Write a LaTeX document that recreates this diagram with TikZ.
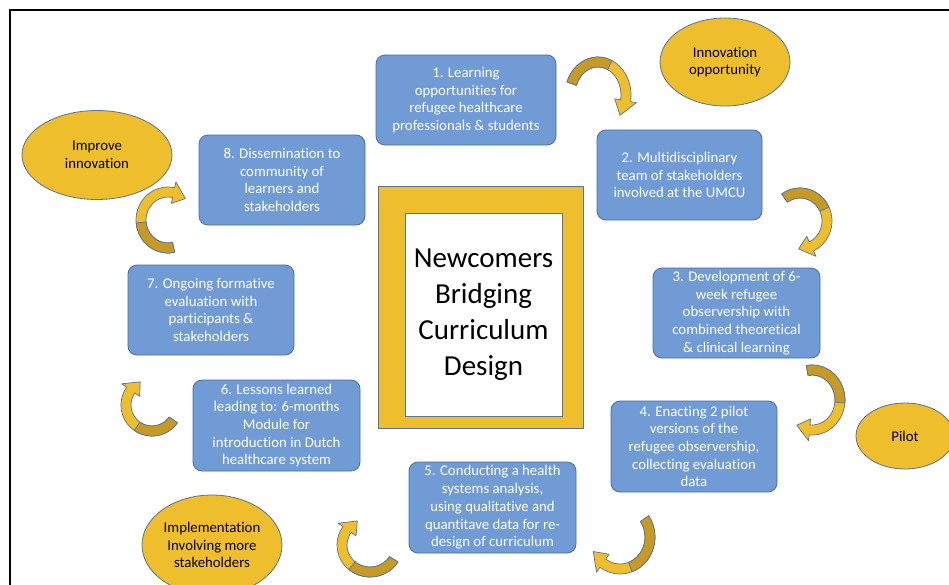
\documentclass[tikz,border=0pt]{standalone}
\usepackage{fontspec}
\setmainfont{Carlito}[Ligatures=NoCommon]
\usetikzlibrary{shapes.geometric}

\definecolor{boxblue}{RGB}{112,155,212}
\definecolor{boxedge}{RGB}{72,108,162}
\definecolor{gold}{RGB}{239,190,45}
\definecolor{darkgold}{RGB}{198,154,36}
\definecolor{rim}{RGB}{88,114,152}

\tikzset{
  stepbox/.style={rectangle, rounded corners=9pt, fill=boxblue, draw=boxedge,
    line width=0.8pt, text=white, align=center, inner sep=0pt,
    font=\fontsize{14.8}{17.7}\selectfont},
  phase/.style={ellipse, fill=gold, draw=rim, line width=0.8pt, text=black,
    align=center, inner sep=0pt, font=\fontsize{14.8}{17.7}\selectfont},
}

% curved ribbon arrow along an ellipse arc (clockwise sweep)
% #1,#2 centre (pixels, y down)  #3,#4 radii  #5 tail angle  #6 head angle  #7 end of dark back face
\newcommand\ribbon[7]{%
 \begin{scope}[shift={(#1,-#2)}]
  \pgfmathsetmacro\rxo{#3+5}\pgfmathsetmacro\ryo{#4+5}%
  \pgfmathsetmacro\rxi{#3-5}\pgfmathsetmacro\ryi{#4-5}%
  \pgfmathsetmacro\rxh{#3+11}\pgfmathsetmacro\ryh{#4+11}%
  \pgfmathsetmacro\rxk{#3-11}\pgfmathsetmacro\ryk{#4-11}%
  \pgfmathsetmacro\tipang{#6-28}%
  \filldraw[fill=gold, draw=rim, line width=0.7pt, line join=round]
   (#5:\rxo pt and \ryo pt)
   arc[start angle=#5, end angle=#6, x radius=\rxo pt, y radius=\ryo pt]
   -- (#6:\rxh pt and \ryh pt) -- (\tipang:#3pt and #4pt) -- (#6:\rxk pt and \ryk pt)
   -- (#6:\rxi pt and \ryi pt)
   arc[start angle=#6, end angle=#5, x radius=\rxi pt, y radius=\ryi pt] -- cycle;
  \filldraw[fill=darkgold, draw=rim, line width=0.7pt, line join=round]
   (#5:\rxo pt and \ryo pt)
   arc[start angle=#5, end angle=#7, x radius=\rxo pt, y radius=\ryo pt]
   -- (#7:\rxi pt and \ryi pt)
   arc[start angle=#7, end angle=#5, x radius=\rxi pt, y radius=\ryi pt] -- cycle;
 \end{scope}}

\begin{document}
\begin{tikzpicture}[x=1pt, y=1pt]
\clip (0,0) rectangle (949,-584);
\fill[white] (0,0) rectangle (949,-584);

% outer frame
\draw[line width=1.2pt] (10,-700) -- (10,-10) -- (1100,-10);

% central title block
\node[rectangle, fill=gold, draw=rim, line width=0.8pt, minimum width=205, minimum height=242] (frame) at (480.5,-307) {};
\node[rectangle, fill=white, draw=rim, line width=0.8pt, minimum width=157, minimum height=203,
  align=center, font=\fontsize{29}{36}\selectfont] (title) at (483.5,-314.5)
  {Newcomers\\Bridging\\Curriculum\\Design};

% steps of the cycle
\node[stepbox, minimum width=180, minimum height=90] (s1) at (466,-100)
  {1. Learning\\opportunities for\\refugee healthcare\\professionals \& students};
\node[stepbox, minimum width=165, minimum height=90] (s2) at (679.5,-175)
  {2. Multidisciplinary\\team of stakeholders\\involved at the UMCU};
\node[stepbox, minimum width=167, minimum height=90] (s3) at (736.5,-313)
  {3. Development of 6-\\week refugee\\observership with\\combined theoretical\\\& clinical learning};
\node[stepbox, minimum width=166, minimum height=91] (s4) at (694,-446.5)
  {4. Enacting 2 pilot\\versions of the\\refugee observership,\\collecting evaluation\\data};
\node[stepbox, minimum width=167, minimum height=91] (s5) at (492.5,-507.5)
  {5. Conducting a health\\systems analysis,\\using qualitative and\\quantitave data for re-\\design of curriculum};
\node[stepbox, minimum width=167, minimum height=91] (s6) at (276.5,-425.5)
  {6. Lessons learned\\leading to: 6-months\\Module for\\introduction in Dutch\\healthcare system};
\node[stepbox, minimum width=166, minimum height=90] (s7) at (211,-310)
  {7. Ongoing formative\\evaluation with\\participants \&\\stakeholders};
\node[stepbox, minimum width=166, minimum height=90] (s8) at (282,-180)
  {8. Dissemination to\\community of\\learners and\\stakeholders};

% phase labels
\node[phase, minimum width=130, minimum height=88] (innov) at (725,-62) {Innovation\\opportunity};
\node[phase, minimum width=150, minimum height=89] (improve) at (97,-155) {Improve\\innovation};
\node[phase, minimum width=98, minimum height=66] (pilot) at (905,-436) {Pilot};
\node[phase, minimum width=140, minimum height=100] (impl) at (212,-545) {Implementation\\Involving more\\stakeholders};

% curved ribbon arrows between the steps
\ribbon{598}{95}{28}{33}{160}{-10}{65}
\ribbon{800}{221}{27}{28}{125}{-65}{25}
\ribbon{812}{400}{28}{30}{100}{-95}{-5}
\ribbon{620}{537}{30}{32}{35}{-125}{-70}
\ribbon{370}{545}{28}{27}{-32}{-215}{-130}
\ribbon{152}{405}{26}{26}{-35}{-215}{-125}
\ribbon{168}{220}{27}{28}{-78}{-282}{-175}
\end{tikzpicture}
\end{document}
